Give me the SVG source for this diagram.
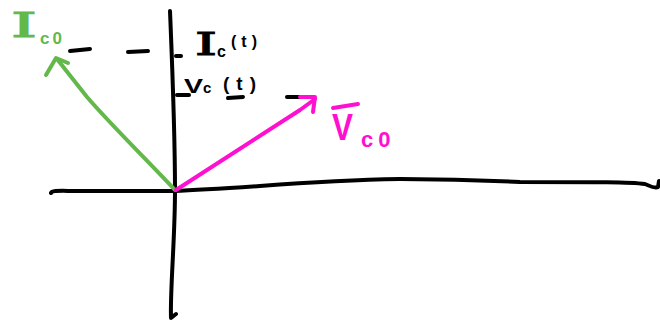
<svg xmlns="http://www.w3.org/2000/svg" width="660" height="326" viewBox="0 0 660 326">
<style>
.ink{fill:none;stroke-linecap:round;stroke-linejoin:round;stroke-width:4}
.k{stroke:#000}
.g{stroke:#63b84a}
.m{stroke:#ff10d0}
.lbl{font-family:"Liberation Sans","DejaVu Sans",sans-serif;font-weight:bold}
.ser{font-family:"DejaVu Serif","Liberation Serif",serif;font-weight:normal;stroke-width:1.2}
</style>
<rect width="660" height="326" fill="#fff"/>
<g id="connectors">
  <path id="axis-v" class="ink k" d="M170,11 C172,60 175,130 175,190 C175,240 170,290 171,318 L176,314"/>
  <path id="axis-h" class="ink k" d="M51,193 C52,190 60,191 80,191 L174,191 C200,190 230,188 260,186 C300,183 340,180 400,179 C450,179 480,180 520,182 C600,182 630,182 645,184 C650,186 655,189 658,187 L659,181"/>
  <g id="dashes" class="ink k">
    <path d="M70,51 L90,49"/>
    <path d="M128,52 L148,51"/>
    <path d="M176,56 L181,56"/>
    <path d="M177,95 L189,95"/>
    <path d="M228,98 L243,97"/>
    <path d="M287,97 L309,97"/>
  </g>
  <g id="phasor-I" class="ink g">
    <path d="M175,190 C150,163 112,126 87,97 L57,59"/>
    <path d="M46,75 L56,58 L68,63"/>
  </g>
  <g id="phasor-V" class="ink m">
    <path d="M176,190 L300,110 L315,99"/>
    <path d="M300,97 L315,97 L313,112"/>
  </g>
</g>
<g id="label-Ic0" fill="#63b84a">
  <text class="ser" x="11" y="37" font-size="33" stroke="#63b84a" textLength="26" lengthAdjust="spacingAndGlyphs">I</text>
  <text class="lbl" x="40" y="44" font-size="17" letter-spacing="3">c0</text>
</g>
<g id="label-Ict" fill="#000">
  <text class="ser" x="195" y="55" font-size="32" stroke="#000" textLength="22" lengthAdjust="spacingAndGlyphs">I</text>
  <text class="lbl" x="217" y="57" font-size="16">c</text>
  <text class="lbl" x="231" y="47" font-size="16" letter-spacing="5">(t)</text>
</g>
<g id="label-Vct" fill="#000">
  <text class="lbl" x="184" y="93" font-size="21" textLength="19" lengthAdjust="spacingAndGlyphs">V</text>
  <text class="lbl" x="203" y="93" font-size="15">c</text>
  <text class="lbl" x="223" y="90" font-size="19" letter-spacing="7">(t)</text>
</g>
<g id="label-Vc0" fill="#ff10d0">
  <path class="ink m" d="M333,108 L358,104"/>
  <text class="lbl" x="332" y="140" font-size="37" textLength="21" lengthAdjust="spacingAndGlyphs">V</text>
  <text class="lbl" x="361" y="147" font-size="22" letter-spacing="5">c0</text>
</g>
</svg>
